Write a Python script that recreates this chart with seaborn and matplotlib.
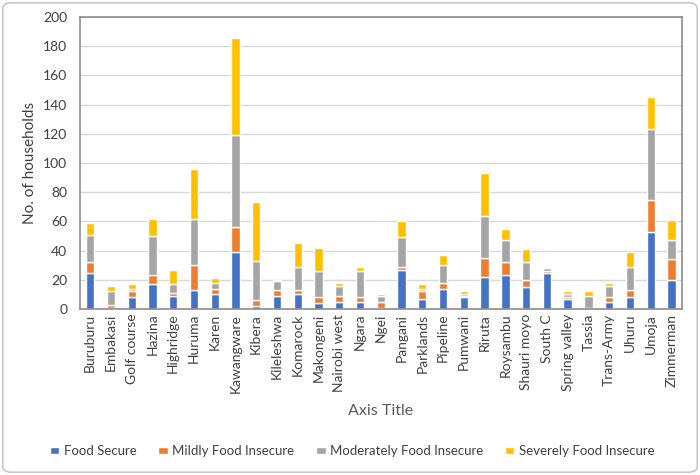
import numpy as np
import seaborn as sns
import matplotlib.pyplot as plt
from matplotlib.patches import FancyBboxPatch

# Data
areas = ['Buruburu', 'Embakasi', 'Golf course', 'Hazina', 'Highridge', 'Huruma', 'Karen',
         'Kawangware', 'Kibera', 'Kileleshwa', 'Komarock', 'Makongeni', 'Nairobi west',
         'Ngara', 'Ngei', 'Pangani', 'Parklands', 'Pipeline', 'Pumwani', 'Riruta',
         'Roysambu', 'Shauri moyo', 'South C', 'Spring valley', 'Tassia', 'Trans-Army',
         'Uhuru', 'Umoja', 'Zimmerman']
food_secure = [25, 1, 8, 17, 9, 13, 10, 39, 2, 9, 10, 4, 5, 5, 1, 27, 7, 14, 8, 22,
               23, 15, 25, 7, 1, 5, 8, 53, 20]
mildly = [7, 2, 4, 6, 2, 17, 4, 17, 4, 4, 3, 4, 4, 3, 4, 2, 5, 4, 1, 13,
          9, 5, 1, 1, 0, 3, 5, 22, 14]
moderately = [19, 9, 2, 27, 6, 32, 4, 63, 27, 6, 16, 18, 7, 18, 4, 20, 2, 12, 1, 29,
              15, 12, 2, 2, 8, 8, 16, 48, 13]
severely = [8, 4, 3, 12, 10, 34, 3, 67, 40, 1, 16, 16, 2, 3, 1, 11, 3, 7, 2, 29,
            8, 9, 0, 2, 3, 2, 10, 22, 14]

series = [('Food Secure', food_secure, '#4472C4'),
          ('Mildly Food Insecure', mildly, '#ED7D31'),
          ('Moderately Food Insecure', moderately, '#A5A5A5'),
          ('Severely Food Insecure', severely, '#FFC000')]

sns.set_style('white')
plt.rcParams['font.family'] = ['Lato', 'DejaVu Sans']

fig = plt.figure(figsize=(7, 4.75), dpi=100)
ax = fig.add_axes([0.114, 0.3495, 0.86, 0.6145])

bottom = np.zeros(len(areas))
for name, vals, col in series:
    sns.barplot(x=areas, y=vals, bottom=bottom, color=col, width=0.4,
                label=name, ax=ax, saturation=1, legend=False)
    bottom += np.array(vals)

ax.set_ylim(0, 200)
ax.set_yticks(range(0, 201, 20))
ax.yaxis.grid(True, color='#D9D9D9', linewidth=1)
ax.set_axisbelow(True)
ax.set_xlim(-0.5, len(areas) - 0.5)
for s in ax.spines.values():
    s.set_color('#8C8C8C')
    s.set_linewidth(1.2)
ax.tick_params(axis='both', length=0, labelsize=10, colors='#404040')
ax.tick_params(axis='y', pad=9)
plt.setp(ax.get_xticklabels(), rotation=90)

ax.set_ylabel('No. of households', fontsize=11, color='#404040')
ax.set_xlabel('Axis Title', fontsize=11.5, color='#595959', labelpad=8)

handles, labels = ax.get_legend_handles_labels()
fig.legend(handles, labels, loc='center', bbox_to_anchor=(0.503, 0.05), ncol=4,
           frameon=False, fontsize=9.5, handlelength=0.75, handleheight=0.5,
           columnspacing=1.6, handletextpad=0.35, labelcolor='#404040')

border = FancyBboxPatch((0.004, 0.006), 0.992, 0.988, boxstyle='round,pad=0,rounding_size=0.012',
                        transform=fig.transFigure, fill=False, edgecolor='#BFBFBF', linewidth=1)
fig.patches.append(border)

plt.savefig('out.png', dpi=100)
plt.close()
